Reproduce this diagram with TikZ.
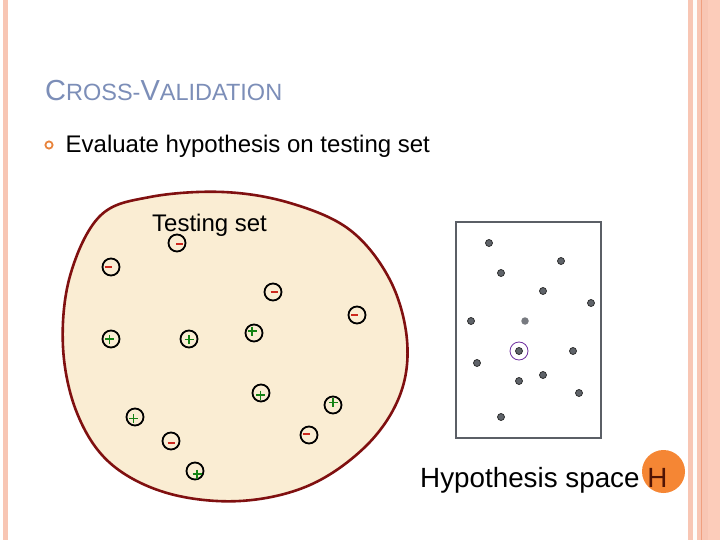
\documentclass[tikz,border=0pt]{standalone}
\usepackage{fontspec}
\setmainfont{Liberation Sans}
\usetikzlibrary{calc}
\definecolor{titleblue}{RGB}{124,142,184}
\definecolor{bulletorange}{RGB}{232,132,60}
\definecolor{blobfill}{RGB}{250,237,211}
\definecolor{blobline}{RGB}{128,16,16}
\definecolor{negred}{RGB}{205,40,30}
\definecolor{posgreen}{RGB}{20,130,20}
\definecolor{boxgray}{RGB}{91,95,102}
\definecolor{dotgray}{RGB}{95,99,105}
\definecolor{ringpurple}{RGB}{112,48,160}
\definecolor{horange}{RGB}{245,134,52}
\definecolor{hbrown}{RGB}{80,20,5}
\definecolor{stripe}{RGB}{248,198,180}
\definecolor{stripedark}{RGB}{240,160,128}
\definecolor{stripelight}{RGB}{252,204,186}
\tikzset{
  samplept/.style={circle,draw=black,line width=1.8pt,minimum size=17pt,inner sep=0pt},
  negsign/.style={draw=negred,line width=2pt},
  possign/.style={draw=posgreen,line width=1.8pt},
  hdot/.style={circle,fill=dotgray,draw=black!85,line width=0.7pt,minimum size=7pt,inner sep=0pt},
  txt/.style={anchor=base west,inner sep=0pt,text=black}
}
\newcommand\negpt[4]{%
  \node[samplept] (#1) at (#2) {};
  \draw[negsign] ([shift={(#3,#4)}]#1.center) ++(-3.5,0) -- ++(7,0);}
\newcommand\pospt[4]{%
  \node[samplept] (#1) at (#2) {};
  \draw[possign] ([shift={(#3,#4)}]#1.center) ++(-4.5,0) -- ++(9,0) ++(-4.5,-4.5) -- ++(0,9);}
\begin{document}
\begin{tikzpicture}[x=1pt,y=-1pt]
\useasboundingbox (0,0) rectangle (720,540);
\fill[white] (0,0) rectangle (720,540);
% side stripes
\fill[stripe] (3,0) rectangle (8,540);
\fill[stripe] (688,0) rectangle (720,540);
\fill[white!94!stripe] (692.5,0) rectangle (696.5,540);
\fill[stripelight] (708,0) rectangle (720,540);
\draw[stripedark,line width=1.5pt] (701.5,0) -- (701.5,540);
% title
\node[txt,text=titleblue] (title) at (45,101)
  {{\fontsize{29}{32}\selectfont C}{\fontsize{23.5}{26}\selectfont ROSS-}{\fontsize{29}{32}\selectfont V}{\fontsize{23.5}{26}\selectfont ALIDATION}};
% bullet
\draw[bulletorange,line width=1.8pt] (49,145) circle (3.6);
\node[txt] (bullettext) at (65.5,153) {\fontsize{24}{28}\selectfont Evaluate hypothesis on testing set};
% testing set blob
\draw[blobline,fill=blobfill,line width=2.6pt] plot[smooth cycle,tension=0.6] coordinates {
 (150,197) (223,192) (290,203) (350,230) (390,280) (407,340) (400,395)
 (367,445) (310,485) (240,501) (167,493) (110,463) (77,413) (63,347)
 (70,276) (100,216)};
\node[txt] (testlabel) at (152,231) {\fontsize{24}{28}\selectfont Testing set};
% samples
\negpt{n1}{177,243}{2.5}{0.5}
\negpt{n2}{111,267}{-3}{0}
\negpt{n3}{273,292}{1}{0}
\negpt{n4}{357,315}{-2.5}{0}
\pospt{p1}{111,339}{-1.5}{0}
\pospt{p2}{189,339}{0}{0.5}
\pospt{p3}{254,333}{-2}{-2}
\pospt{p4}{261,393}{-0.5}{2}
\pospt{p5}{333,405}{0}{-2.5}
\pospt{p6}{135,417}{-1.5}{1.5}
\negpt{n5}{171,441}{0}{2}
\negpt{n6}{309,435}{-2.5}{-1}
\pospt{p7}{195,471}{2}{3}
% hypothesis space box
\draw[boxgray,line width=2.5pt] (456,222) rectangle (601,438);
\node[hdot] (h1) at (489,243) {};
\node[hdot] (h2) at (561,261) {};
\node[hdot] (h3) at (501,273) {};
\node[hdot] (h4) at (543,291) {};
\node[hdot] (h5) at (591,303) {};
\node[hdot] (h6) at (471,321) {};
\node[circle,fill=dotgray!85,minimum size=7.5pt,inner sep=0pt] (h7) at (525,321) {};
\node[hdot] (h8) at (519,351) {};
\draw[ringpurple,line width=0.8pt] (h8) circle (9);
\node[hdot] (h9) at (573,351) {};
\node[hdot] (h10) at (477,363) {};
\node[hdot] (h11) at (543,375) {};
\node[hdot] (h12) at (519,381) {};
\node[hdot] (h13) at (579,393) {};
\node[hdot] (h14) at (501,417) {};
% H label
\fill[horange] (663.5,471.5) circle (21.5);
\node[txt] (hyplabel) at (420,487) {\fontsize{27.8}{31}\selectfont Hypothesis space {\color{hbrown}H}};
\end{tikzpicture}
\end{document}
